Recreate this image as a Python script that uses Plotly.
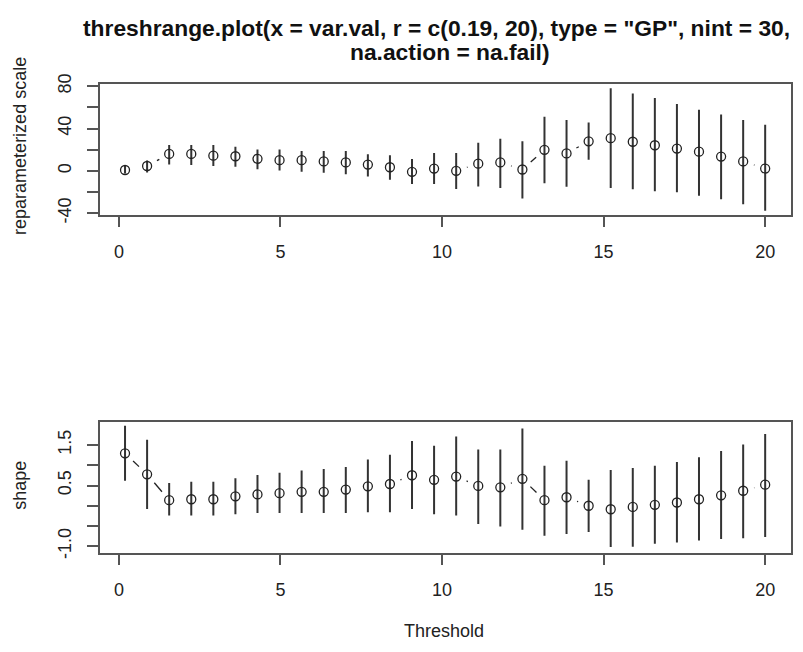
import numpy as np
import plotly.graph_objects as go

# ---------------- data ----------------
thresholds = [0.19, 0.873, 1.556, 2.240, 2.923, 3.606, 4.289, 4.972, 5.655, 6.339,
              7.022, 7.705, 8.388, 9.071, 9.754, 10.438, 11.121, 11.804, 12.487, 13.170,
              13.853, 14.537, 15.220, 15.903, 16.586, 17.269, 17.952, 18.636, 19.319, 20.0]

scale_est = [0.8, 4.6, 16.0, 16.0, 14.4, 13.8, 11.4, 10.1, 10.1, 8.9,
             8.0, 5.9, 3.4, -0.9, 2.2, 0.0, 6.8, 8.0, 1.3, 19.9,
             16.5, 27.9, 30.9, 27.5, 24.2, 21.1, 18.1, 13.5, 8.9, 2.2]
scale_hi = [4.5, 9.8, 24.5, 24.5, 24.5, 22.7, 20.2, 20.2, 18.7, 18.7,
            18.7, 15.6, 14.7, 11.1, 16.9, 16.9, 26.6, 30.3, 27.9, 51.1,
            48.1, 45.6, 78.0, 73.1, 68.8, 63.3, 57.8, 53.2, 48.1, 43.5]
scale_lo = [-2.5, -1.5, 5.9, 5.5, 4.7, 3.8, 1.5, 0.3, -0.9, -1.8,
            -3.3, -5.4, -8.5, -12.4, -12.5, -17.1, -14.7, -16.1, -26.0, -11.6,
            -15.0, 10.5, -16.1, -17.4, -19.3, -20.2, -23.5, -26.9, -31.5, -37.6]

shape_est = [1.295, 0.777, 0.137, 0.16, 0.16, 0.233, 0.28, 0.31, 0.345, 0.345,
             0.40, 0.48, 0.537, 0.753, 0.64, 0.72, 0.49, 0.456, 0.664, 0.137,
             0.21, 0.0, -0.087, -0.03, 0.024, 0.08, 0.16, 0.257, 0.37, 0.52]
shape_hi = [1.976, 1.63, 0.56, 0.59, 0.59, 0.68, 0.76, 0.815, 0.87, 0.91,
            0.96, 1.14, 1.257, 1.60, 1.48, 1.71, 1.39, 1.39, 1.91, 0.99,
            1.11, 0.64, 0.88, 0.935, 0.99, 1.08, 1.20, 1.35, 1.51, 1.77]
shape_lo = [0.616, -0.08, -0.24, -0.24, -0.24, -0.21, -0.18, -0.18, -0.18, -0.18,
            -0.18, -0.16, -0.16, -0.08, -0.21, -0.24, -0.45, -0.51, -0.59, -0.74,
            -0.70, -0.65, -1.02, -1.01, -0.94, -0.91, -0.86, -0.82, -0.80, -0.77]

x_ticks = [0, 5, 10, 15, 20]
scale_ticks = [-40, -20, 0, 20, 40, 60, 80]
scale_ticktext = ["-40", "", "0", "", "40", "", "80"]
shape_ticks = [-1.0, -0.5, 0.0, 0.5, 1.0, 1.5]
shape_ticktext = ["-1.0", "", "", "0.5", "", "1.5"]

title_line1 = 'threshrange.plot(x = var.val, r = c(0.19, 20), type = "GP", nint = 30,'
title_line2 = 'na.action = na.fail)'

# ---------------- layout geometry ----------------
W, H = 803, 652
x_dom = [99.5 / W, 790.7 / W]
top_dom = [1 - 210.7 / H, 1 - 76 / H]
bot_dom = [1 - 559 / H, 1 - 424.3 / H]
x_range = [-0.6, 20.79]
top_range = [-41.3, 82.3]
bot_range = [-1.16, 2.07]

INK = "#222222"
AX = "#555555"
FONT = "Liberation Sans, Arial, sans-serif"


def gapped_segments(xs, ys, yr, ydom, gap=11.3):
    """Segments between consecutive points, trimmed around each point (R type='b')."""
    sx = (x_dom[1] - x_dom[0]) * W / (x_range[1] - x_range[0])
    sy = (ydom[1] - ydom[0]) * H / (yr[1] - yr[0])
    ox, oy = [], []
    for i in range(len(xs) - 1):
        dxp = (xs[i + 1] - xs[i]) * sx
        dyp = (ys[i + 1] - ys[i]) * sy
        d = np.hypot(dxp, dyp)
        if d <= 2 * gap:
            continue
        f = gap / d
        ox += [xs[i] + f * (xs[i + 1] - xs[i]), xs[i + 1] - f * (xs[i + 1] - xs[i]), None]
        oy += [ys[i] + f * (ys[i + 1] - ys[i]), ys[i + 1] - f * (ys[i + 1] - ys[i]), None]
    return ox, oy


fig = go.Figure()


def add_panel(est, lo, hi, xa, ya, yr, ydom):
    ex = [h - e for h, e in zip(hi, est)]
    exm = [e - l for l, e in zip(lo, est)]
    sxs, sys_ = gapped_segments(thresholds, est, yr, ydom)
    fig.add_trace(go.Scatter(x=sxs, y=sys_, mode="lines", xaxis=xa, yaxis=ya,
                             line=dict(color=INK, width=1.3, dash="12px,6px"),
                             hoverinfo="skip", showlegend=False))
    fig.add_trace(go.Scatter(
        x=thresholds, y=est, mode="markers", xaxis=xa, yaxis=ya, showlegend=False,
        marker=dict(symbol="circle-open", size=9, color=INK, line=dict(width=1.3, color=INK)),
        error_y=dict(type="data", symmetric=False, array=ex, arrayminus=exm,
                     width=0, thickness=2, color="#333333")))


add_panel(scale_est, scale_lo, scale_hi, "x", "y", top_range, top_dom)
add_panel(shape_est, shape_lo, shape_hi, "x2", "y2", bot_range, bot_dom)

axis_common = dict(showline=True, mirror=True, linecolor=AX, linewidth=1.5,
                   ticks="outside", ticklen=11, tickwidth=1.5, tickcolor=AX,
                   showgrid=False, zeroline=False,
                   tickfont=dict(family=FONT, size=18, color=INK))

fig.update_layout(
    width=W, height=H,
    margin=dict(l=0, r=0, t=0, b=0),
    paper_bgcolor="white", plot_bgcolor="white",
    xaxis=dict(domain=x_dom, range=x_range, tickvals=x_ticks, anchor="y",
               ticklabelstandoff=9, **axis_common),
    yaxis=dict(domain=top_dom, range=top_range, tickvals=scale_ticks,
               ticktext=scale_ticktext, tickangle=-90, anchor="x",
               ticklabelstandoff=9, **axis_common),
    xaxis2=dict(domain=x_dom, range=x_range, tickvals=x_ticks, anchor="y2",
                ticklabelstandoff=9, **axis_common),
    yaxis2=dict(domain=bot_dom, range=bot_range, tickvals=shape_ticks,
                ticktext=shape_ticktext, tickangle=-90, anchor="x2",
                ticklabelstandoff=9, **axis_common),
    annotations=[
        dict(text="<b>" + title_line1 + "</b>",
             x=437 / W, y=1 - 19 / H, xref="paper", yref="paper",
             xanchor="center", yanchor="middle", showarrow=False,
             font=dict(family=FONT, size=22.8, color="#111111")),
        dict(text="<b>" + title_line2 + "</b>",
             x=450 / W, y=1 - 43 / H, xref="paper", yref="paper",
             xanchor="center", yanchor="middle", showarrow=False,
             font=dict(family=FONT, size=22.8, color="#111111")),
        dict(text="reparameterized scale", x=20 / W, y=1 - 140 / H,
             xref="paper", yref="paper", xanchor="center", yanchor="middle",
             textangle=-90, showarrow=False,
             font=dict(family=FONT, size=18, color=INK)),
        dict(text="shape", x=20 / W, y=1 - 490 / H,
             xref="paper", yref="paper", xanchor="center", yanchor="middle",
             textangle=-90, showarrow=False,
             font=dict(family=FONT, size=18, color=INK)),
        dict(text="Threshold", x=444 / W, y=1 - 640 / H,
             xref="paper", yref="paper", xanchor="center", yanchor="middle",
             showarrow=False, font=dict(family=FONT, size=18, color=INK)),
    ],
)

fig.write_html("out.html")
